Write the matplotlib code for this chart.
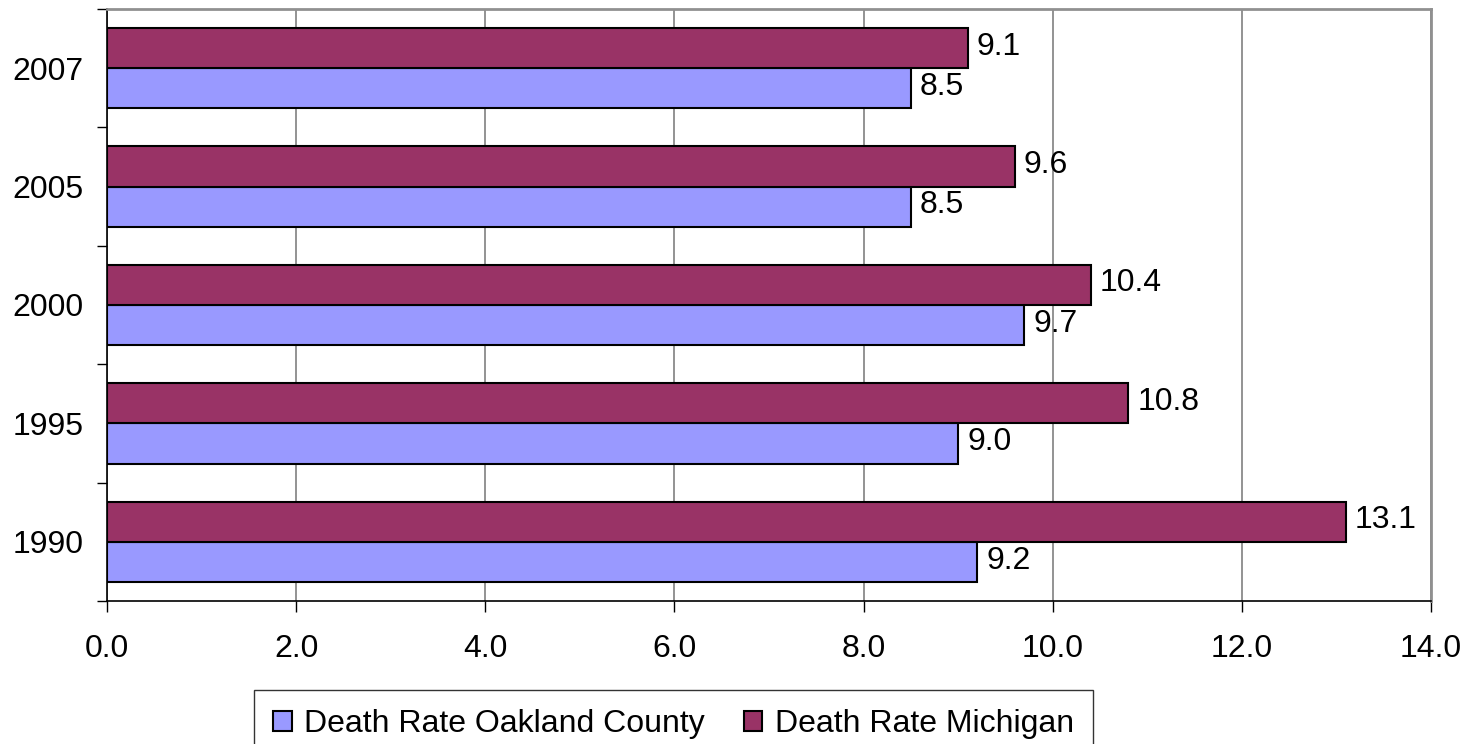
import matplotlib
matplotlib.use("Agg")
import matplotlib.pyplot as plt
from matplotlib.patches import Patch
import numpy as np

plt.rcParams['font.family'] = ['Liberation Sans', 'DejaVu Sans']

years = ['1990', '1995', '2000', '2005', '2007']
oakland = [9.2, 9.0, 9.7, 8.5, 8.5]
michigan = [13.1, 10.8, 10.4, 9.6, 9.1]
series_names = ['Death Rate Oakland County', 'Death Rate Michigan']
colors = ['#9999FF', '#993366']
xticks = [0, 2, 4, 6, 8, 10, 12, 14]

fig = plt.figure(figsize=(14.79, 7.44), dpi=100)
ax = fig.add_axes([107/1479, 1-601/744, (1431-107)/1479, (601-9)/744])

y = np.arange(len(years))
h = 0.34
b1 = ax.barh(y - h/2, oakland, height=h, color=colors[0], edgecolor='black', linewidth=1.5, zorder=3)
b2 = ax.barh(y + h/2, michigan, height=h, color=colors[1], edgecolor='black', linewidth=1.5, zorder=3)

fs = 23
for bars, vals in ((b1, oakland), (b2, michigan)):
    for bar, v in zip(bars, vals):
        ax.annotate(f'{v:.1f}', (bar.get_width(), bar.get_y() + bar.get_height()/2),
                    xytext=(6.5, 1), textcoords='offset points', va='center', ha='left', fontsize=fs)

ax.set_xlim(0, 14)
ax.set_ylim(-0.5, len(years) - 0.5)
ax.set_xticks(xticks)
ax.set_xticklabels([f'{t:.1f}' for t in xticks], fontsize=fs)
ax.tick_params(axis='x', length=8, width=1, pad=16, color='black')
ax.set_yticks(y)
ax.set_yticklabels(years, fontsize=fs)
ax.tick_params(axis='y', length=0, pad=17)
ax.set_yticks(np.arange(len(years) + 1) - 0.5, minor=True)
ax.tick_params(axis='y', which='minor', length=7, width=1, color='black')

ax.xaxis.grid(True, color='#808080', linewidth=1.2, zorder=0)
ax.set_axisbelow(True)
for s in ('top', 'right'):
    ax.spines[s].set_color('#909090')
    ax.spines[s].set_linewidth(2)
for s in ('left', 'bottom'):
    ax.spines[s].set_color('black')
    ax.spines[s].set_linewidth(1.2)

handles = [Patch(facecolor=colors[0], edgecolor='black', linewidth=1.5),
           Patch(facecolor=colors[1], edgecolor='black', linewidth=1.5)]
leg = fig.legend(handles, series_names, loc='upper left', bbox_to_anchor=(254/1479, 1-690/744),
                 ncol=2, fontsize=fs, frameon=True, fancybox=False, edgecolor='black',
                 handlelength=0.58, handleheight=0.58, handletextpad=0.4, columnspacing=1.2,
                 borderpad=0.6, borderaxespad=0)
leg.get_frame().set_linewidth(1)

fig.savefig('out.png', dpi=100)
